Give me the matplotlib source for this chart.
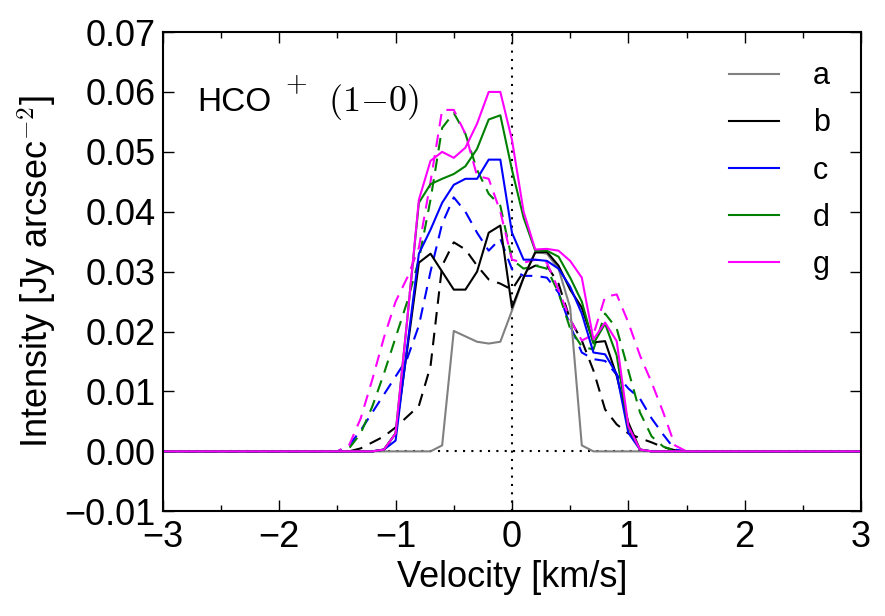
import matplotlib
matplotlib.use("Agg")
import matplotlib.pyplot as plt
from matplotlib.ticker import MultipleLocator

plt.rcParams["font.family"] = ["Liberation Sans", "DejaVu Sans"]
plt.rcParams["mathtext.fontset"] = "cm"

# velocity channels [km/s]
vel = [-3.0, -1.5, -1.4, -1.3, -1.2, -1.1, -1.0, -0.9, -0.8, -0.7, -0.6,
       -0.5, -0.4, -0.3, -0.2, -0.1, 0.0, 0.1, 0.2, 0.3, 0.4, 0.5,
       0.6, 0.7, 0.8, 0.9, 1.0, 1.1, 1.2, 1.3, 1.4, 1.5, 3.0]

# solid spectra
a_solid = [0, 0, 0, 0, 0, 0, 0, 0, 0, 0, 0.001,
           0.0201, 0.0192, 0.0183, 0.018, 0.0183, 0.0235, 0.029, 0.0333, 0.033, 0.0305, 0.024,
           0.001, 0, 0, 0, 0, 0, 0, 0, 0, 0, 0]
b_solid = [0, 0, 0, 0, 0, 0.0003, 0.003, 0.017, 0.0315, 0.033, 0.030,
           0.027, 0.027, 0.030, 0.0365, 0.0377, 0.024, 0.029, 0.0332, 0.0333, 0.031, 0.027,
           0.024, 0.0182, 0.0184, 0.0126, 0.0048, 0.0003, 0, 0, 0, 0, 0]
c_solid = [0, 0, 0, 0, 0, 0.0003, 0.0018, 0.0175, 0.033, 0.037, 0.0415,
           0.0445, 0.0455, 0.0455, 0.0487, 0.0487, 0.0365, 0.032, 0.032, 0.0318, 0.0305, 0.0275,
           0.023, 0.0165, 0.0162, 0.0129, 0.0031, 0.0003, 0, 0, 0, 0, 0]
d_solid = [0, 0, 0, 0, 0, 0.0003, 0.003, 0.022, 0.0415, 0.0446, 0.0455,
           0.0463, 0.0476, 0.0505, 0.0554, 0.0561, 0.047, 0.039, 0.0335, 0.0335, 0.0325, 0.029,
           0.025, 0.018, 0.0213, 0.016, 0.004, 0.0003, 0, 0, 0, 0, 0]
g_solid = [0, 0, 0, 0, 0, 0.0003, 0.003, 0.022, 0.042, 0.0485, 0.050,
           0.049, 0.0507, 0.0547, 0.060, 0.060, 0.052, 0.040, 0.0337, 0.0338, 0.0335, 0.0318,
           0.029, 0.0187, 0.0215, 0.0184, 0.0042, 0.0003, 0, 0, 0, 0, 0]

# dashed spectra
b_dash = [0, 0, 0, 0.0005, 0.0015, 0.0025, 0.004, 0.0058, 0.0076, 0.0142, 0.031,
          0.0349, 0.0337, 0.031, 0.0287, 0.028, 0.027, 0.030, 0.031, 0.031, 0.028, 0.022,
          0.0185, 0.0135, 0.007, 0.0045, 0.003, 0.0022, 0.0015, 0.0007, 0.0002, 0, 0]
c_dash = [0, 0, 0.001, 0.0035, 0.0065, 0.0095, 0.0125, 0.0155, 0.021, 0.030, 0.038,
          0.0424, 0.040, 0.0365, 0.0335, 0.0355, 0.0304, 0.0293, 0.0293, 0.029, 0.0265, 0.021,
          0.0165, 0.0154, 0.0151, 0.0128, 0.0105, 0.0088, 0.0055, 0.0028, 0.0003, 0, 0]
d_dash = [0, 0, 0.0005, 0.003, 0.0075, 0.013, 0.019, 0.025, 0.032, 0.042, 0.054,
          0.0565, 0.053, 0.047, 0.043, 0.041, 0.032, 0.0305, 0.031, 0.0305, 0.0265, 0.0205,
          0.0175, 0.017, 0.023, 0.0205, 0.0135, 0.0065, 0.0025, 0.0008, 0.0001, 0, 0]
g_dash = [0, 0, 0.001, 0.0055, 0.012, 0.019, 0.025, 0.029, 0.034, 0.045, 0.057,
          0.057, 0.053, 0.046, 0.0455, 0.040, 0.032, 0.0315, 0.032, 0.0315, 0.027, 0.022,
          0.0185, 0.0195, 0.0258, 0.0262, 0.0215, 0.016, 0.0115, 0.0065, 0.001, 0, 0]

labels = ["a", "b", "c", "d", "g"]
colors = ["gray", "black", "blue", "green", "magenta"]

fig = plt.figure(figsize=(8.85, 6.16), dpi=100)
ax = fig.add_axes([0.184, 0.170, 0.789, 0.778])

ax.axvline(0, color="black", lw=1.5, ls=(0, (1, 3)))
ax.axhline(0, color="black", lw=1.5, ls=(0, (1, 3)))

for ys, c in zip([b_dash, c_dash, d_dash, g_dash], colors[1:]):
    ax.plot(vel, ys, color=c, lw=1.5, ls=(0, (6, 4)))
for ys, c, lab in zip([a_solid, b_solid, c_solid, d_solid, g_solid], colors, labels):
    ax.plot(vel, ys, color=c, lw=1.5, label=lab)

ax.set_xlim(-3, 3)
ax.set_ylim(-0.01, 0.07)
ax.xaxis.set_major_locator(MultipleLocator(1))
ax.xaxis.set_minor_locator(MultipleLocator(0.5))
ax.yaxis.set_major_locator(MultipleLocator(0.01))
ax.tick_params(which="both", direction="in", top=True, right=True, labelsize=26)
ax.tick_params(which="major", length=8, width=1)
ax.tick_params(which="minor", length=4, width=1)
ax.tick_params(axis="x", pad=6)
ax.tick_params(axis="y", pad=5)
for s in ax.spines.values():
    s.set_linewidth(1.5)

ax.set_xlabel("Velocity [km/s]", fontsize=26)
ax.set_ylabel(r"Intensity [Jy arcsec$^{-2}$]", fontsize=26)

# line label: molecule, charge, transition
ax.text(0.0487, 0.835, "HCO", transform=ax.transAxes, fontsize=24, va="baseline", ha="left")
ax.text(0.1905, 0.889, r"$+$", transform=ax.transAxes, fontsize=20, va="center", ha="center")
ax.text(0.2364, 0.835, r"$(1{-}0)$", transform=ax.transAxes, fontsize=26, va="baseline", ha="left")

ax.legend(loc="upper right", bbox_to_anchor=(0.997, 1.0), frameon=False, fontsize=22,
          handlelength=1.65, handletextpad=1.1, labelspacing=0.56, borderaxespad=0.56)

fig.savefig("out.png", dpi=100)
